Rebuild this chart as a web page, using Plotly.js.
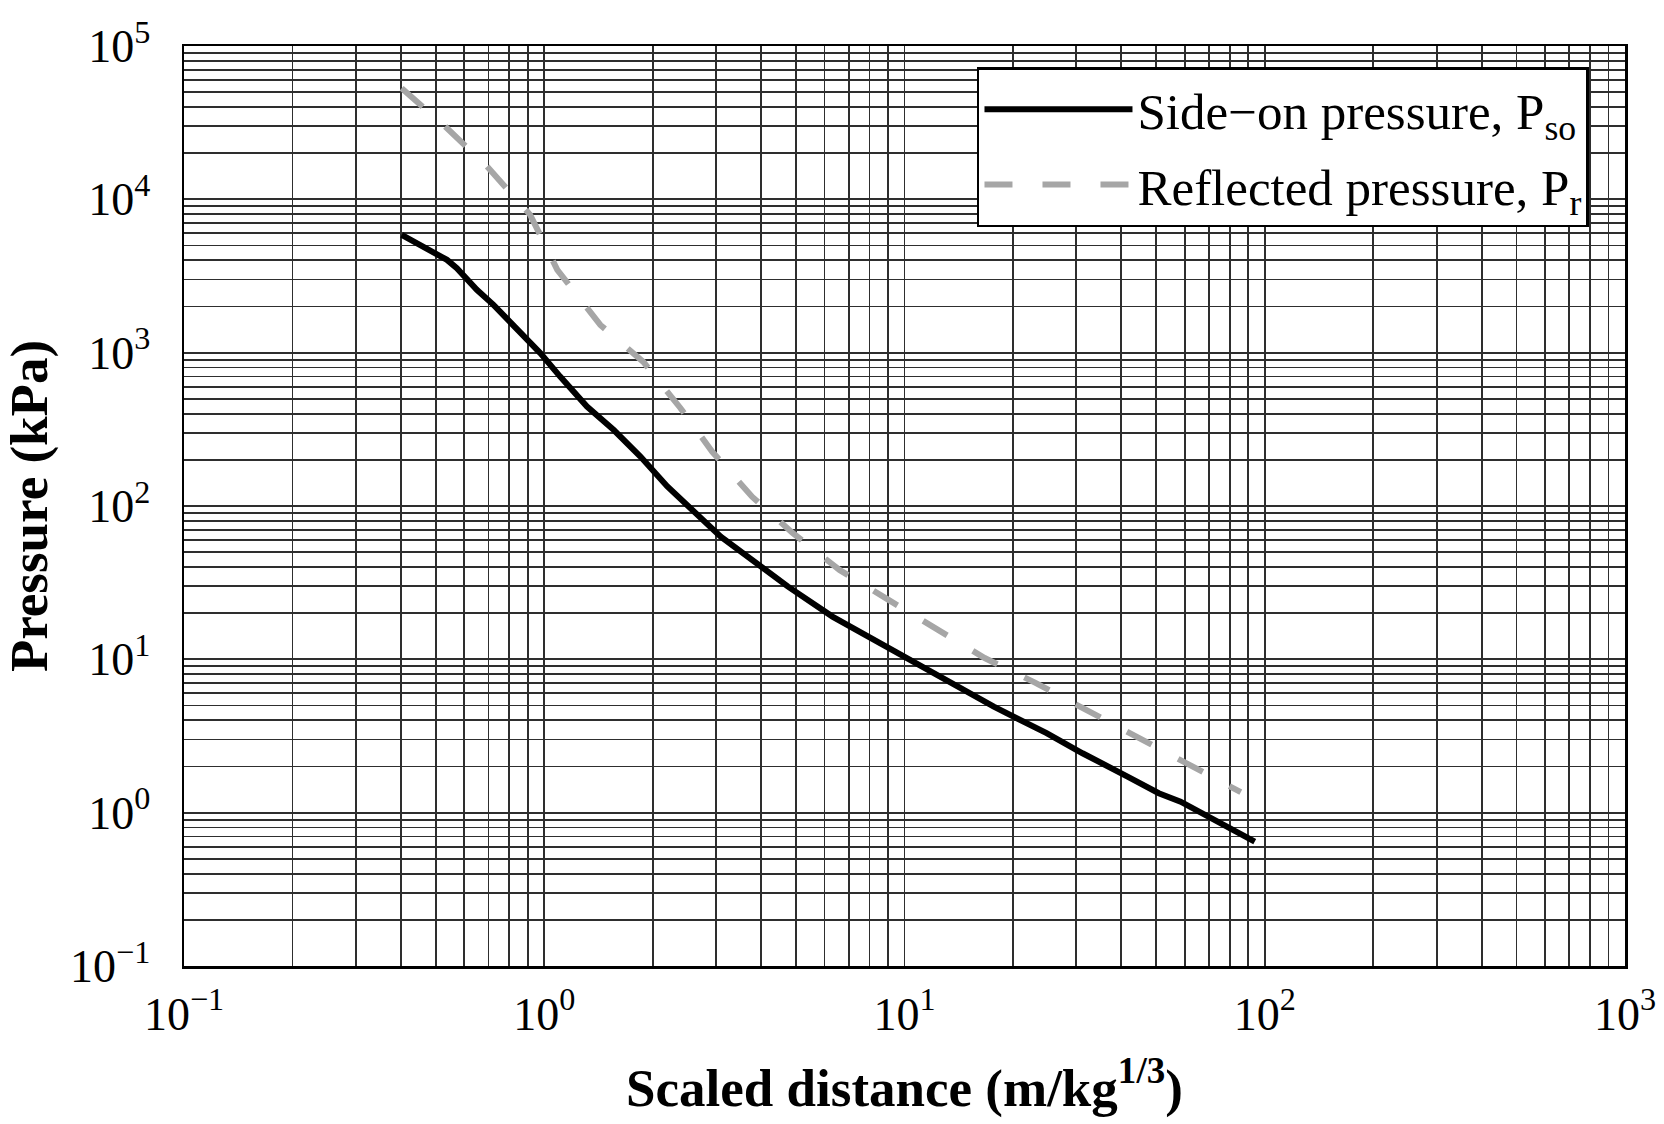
<!DOCTYPE html>
<html>
<head>
<meta charset="utf-8">
<script src="https://cdn.plot.ly/plotly-3.0.1.min.js"></script>
<style>html,body{margin:0;padding:0;background:#fff;}#chart{width:1664px;height:1124px;}</style>
</head>
<body>
<div id="chart"></div>
<script>
// Side-on pressure P_so (kPa) vs scaled distance (m/kg^1/3)
const sideOnX = [0.402, 0.537, 0.572, 0.650, 0.723, 0.857, 0.975, 1.107, 1.314, 1.557, 1.849, 2.196, 3.09, 4.75, 6.31, 8.9, 12.5, 17.7, 24.8, 31.2, 41.6, 50.8, 58.4, 78, 93.8];
const sideOnY = [5866, 4030, 3560, 2570, 2050, 1340, 993, 698, 445, 314, 210, 134, 63.1, 29.8, 19.0, 12.1, 7.71, 4.91, 3.30, 2.44, 1.72, 1.34, 1.18, 0.811, 0.647];

// Reflected pressure P_r (kPa)
const reflectedX = [0.402, 0.531, 0.694, 0.779, 0.914, 1.087, 1.431, 1.884, 2.387, 2.93, 3.78, 4.89, 6.60, 9.03, 12.35, 16.7, 23.1, 32.7, 44.7, 61.1, 85.8];
const reflectedY = [53100, 29850, 16370, 12120, 7925, 3470, 1517, 871, 436, 225, 114.6, 66.8, 38.3, 24.4, 15.6, 10.2, 7.02, 4.54, 3.07, 2.11, 1.36];

const seriesNames = ['Side\u2212on pressure, P<sub>so</sub>', 'Reflected pressure, P<sub>r</sub>'];

const xTickVals = [0.1, 1, 10, 100, 1000];
const xTickText = ['10<sup>\u22121</sup>', '10<sup>0</sup>', '10<sup>1</sup>', '10<sup>2</sup>', '10<sup>3</sup>'];
const yTickVals = [0.1, 1, 10, 100, 1000, 10000, 100000];
const yTickText = ['10<sup>\u22121</sup>', '10<sup>0</sup>', '10<sup>1</sup>', '10<sup>2</sup>', '10<sup>3</sup>', '10<sup>4</sup>', '10<sup>5</sup>'];

const xTitle = 'Scaled distance (m/kg<sup>1/3</sup>)';
const yTitle = 'Pressure (kPa)';

const FONT = 'Liberation Serif, Times New Roman, serif';
const GRID = '#2e2e2e';

const traces = [
  {x: sideOnX, y: sideOnY, name: seriesNames[0], legendgroup: 'a', mode: 'lines', type: 'scatter',
   line: {color: '#000000', width: 6}},
  {x: reflectedX, y: reflectedY, name: seriesNames[1], legendgroup: 'b', mode: 'lines', type: 'scatter',
   line: {color: '#a6a6a6', width: 6, dash: '28px,30px'}}
];

const axisCommon = {
  type: 'log',
  showline: true, mirror: true, linecolor: '#000', linewidth: 2.5,
  showgrid: true, gridcolor: GRID, gridwidth: 1.8,
  ticks: '', zeroline: false,
  tickfont: {family: FONT, size: 46, color: '#000'},
  tickmode: 'array',
  minor: {tickmode: 'linear', dtick: 'D1', showgrid: true, gridcolor: GRID, gridwidth: 1.8, ticks: ''}
};

const layout = {
  width: 1664, height: 1124,
  paper_bgcolor: '#fff', plot_bgcolor: '#fff',
  margin: {l: 184, r: 39, t: 46, b: 158, pad: 0},
  showlegend: true,
  font: {family: FONT, color: '#000'},
  xaxis: Object.assign({}, axisCommon, {
    range: [-1, 3], tickvals: xTickVals, ticktext: xTickText,
    ticklabelstandoff: 6,
    title: {text: xTitle, font: {family: FONT, size: 53, weight: 'bold', color: '#000'}, standoff: 30}
  }),
  yaxis: Object.assign({}, axisCommon, {
    range: [-1, 5], tickvals: yTickVals, ticktext: yTickText,
    ticklabelstandoff: 22,
    title: {text: yTitle, font: {family: FONT, size: 53, weight: 'bold', color: '#000'}, standoff: 10}
  }),
  legend: {
    x: 0.5503, y: 0.977, xanchor: 'left', yanchor: 'top',
    bgcolor: '#fff', bordercolor: '#000', borderwidth: 2.5,
    font: {family: FONT, size: 51, color: '#000'},
    itemwidth: 148,
    traceorder: 'grouped',
    tracegroupgap: 6
  }
};

Plotly.newPlot('chart', traces, layout, {staticPlot: true, displayModeBar: false});
</script>
</body>
</html>
